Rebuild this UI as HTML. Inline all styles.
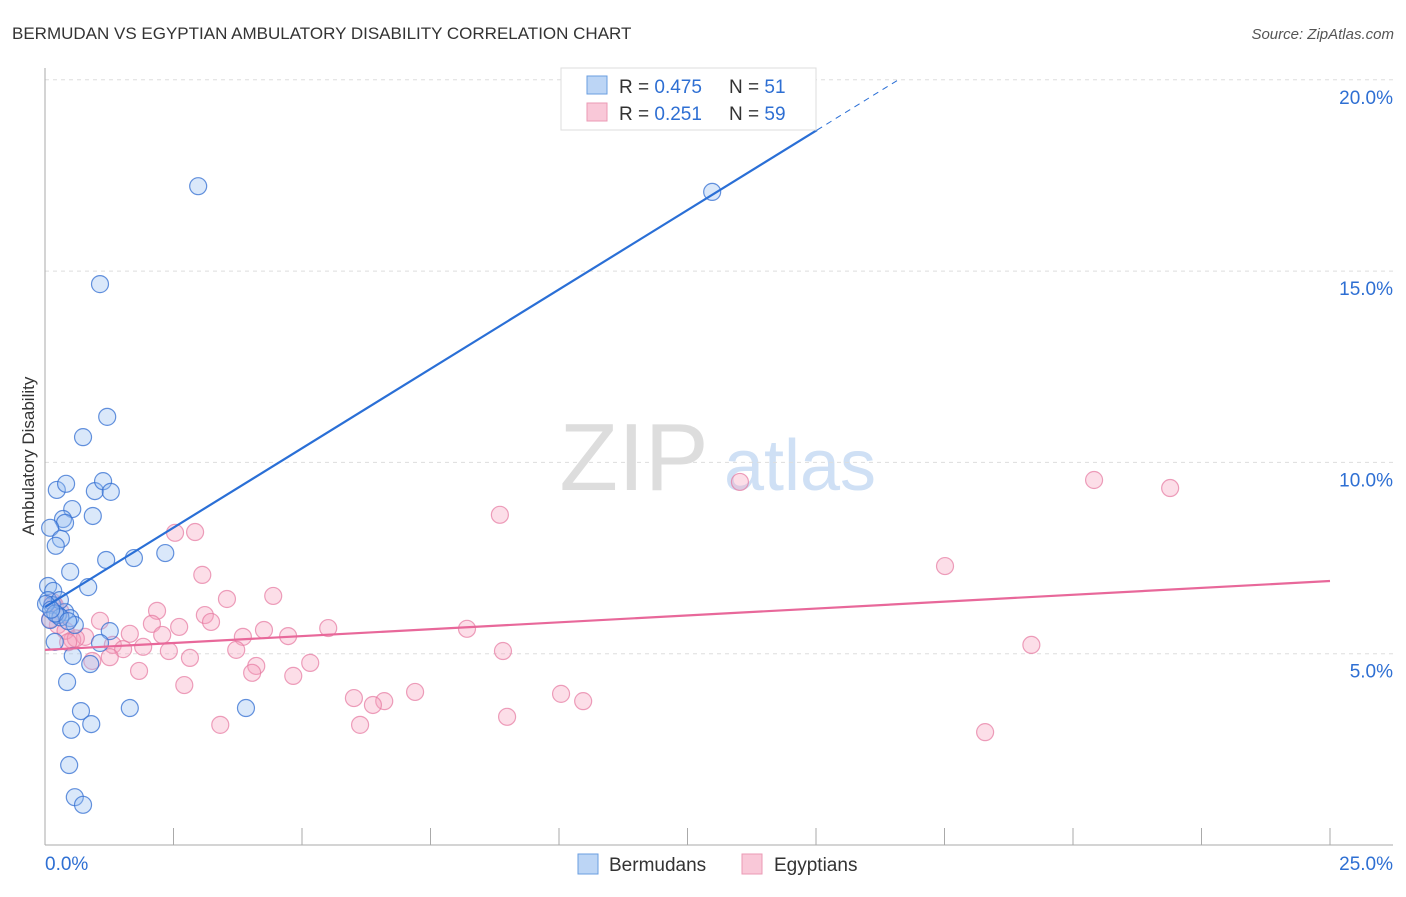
<!DOCTYPE html>
<html><head><meta charset="utf-8"><style>
body{margin:0;background:#fff;font-family:"Liberation Sans",sans-serif;}
svg text{font-family:"Liberation Sans",sans-serif;}
</style></head><body>
<svg width="1406" height="892" id="chart">
<text x="12" y="39" font-size="17" fill="#333">BERMUDAN VS EGYPTIAN AMBULATORY DISABILITY CORRELATION CHART</text>
<text x="1394" y="39" font-size="15" fill="#555" font-style="italic" text-anchor="end">Source: ZipAtlas.com</text>
<text x="634" y="490" font-size="96" fill="#ddd" font-family="Liberation Serif" text-anchor="middle">ZIP</text>
<text x="800" y="490" font-size="72" fill="#cfe0f5" text-anchor="middle">atlas</text>
<text transform="translate(34,456) rotate(-90)" font-size="17" fill="#333" text-anchor="middle">Ambulatory Disability</text>
<g id="grid"></g><g id="axes"></g><g id="pts"></g><g id="lines"></g>
<g>
<rect x="561" y="68" width="255" height="62" fill="#fff" stroke="#ddd"/>
<rect x="587" y="76" width="20" height="18" fill="#bcd5f5" stroke="#6a9ee0"/>
<rect x="587" y="103" width="20" height="18" fill="#f9c8d8" stroke="#eb9ab5"/>
<text x="619" y="93" font-size="19" fill="#333">R = <tspan fill="#2e6fd3">0.475</tspan><tspan x="729">N = </tspan><tspan fill="#2e6fd3">51</tspan></text>
<text x="619" y="120" font-size="19" fill="#333">R = <tspan fill="#2e6fd3"> 0.251</tspan><tspan x="729">N = </tspan><tspan fill="#2e6fd3">59</tspan></text>
</g>
<g>
<rect x="578" y="854" width="20" height="20" fill="#bcd5f5" stroke="#6a9ee0"/>
<text x="609" y="871" font-size="19" fill="#333">Bermudans</text>
<rect x="742" y="854" width="20" height="20" fill="#f9c8d8" stroke="#eb9ab5"/>
<text x="774" y="871" font-size="19" fill="#333">Egyptians</text>
</g>
</svg>
<script>
const yTicks=[5,10,15,20];
const xTickLabels=["0.0%","25.0%"];
const bermX=[2.98,12.98,1.07,1.21,0.74,0.23,0.41,0.97,1.13,1.28,0.53,0.93,0.35,0.39,0.10,0.31,0.21,1.19,1.73,2.34,0.49,0.84,0.06,0.16,0.06,0.14,0.39,0.49,0.25,0.58,1.26,0.19,1.07,0.54,0.88,0.43,1.65,3.91,0.70,0.90,0.51,0.47,0.58,0.74,0.29,0.10,0.02,0.30,0.20,0.45,0.12];
const bermY=[17.22,17.07,14.66,11.19,10.66,9.28,9.44,9.25,9.51,9.23,8.78,8.60,8.52,8.42,8.29,8.00,7.82,7.45,7.50,7.63,7.14,6.74,6.77,6.64,6.40,6.27,6.09,5.93,6.01,5.75,5.59,5.31,5.28,4.94,4.73,4.26,3.58,3.58,3.50,3.16,3.01,2.09,1.25,1.05,6.40,5.88,6.30,5.95,6.05,5.85,6.15];
const egX=[20.41,21.89,13.52,8.85,2.92,2.53,17.51,3.06,4.44,3.54,2.18,3.11,1.07,2.08,3.23,2.61,5.51,8.21,4.26,4.73,3.85,2.28,1.65,0.78,0.53,1.32,1.91,1.52,3.72,2.41,8.91,19.19,1.26,2.82,0.92,5.16,4.11,1.83,4.03,4.83,2.71,7.20,6.01,10.04,10.47,6.60,6.38,8.99,3.41,6.13,18.29,0.19,0.25,0.10,0.40,0.30,0.60,0.15,0.45];
const egY=[9.54,9.33,9.49,8.63,8.18,8.16,7.29,7.06,6.51,6.43,6.12,6.01,5.86,5.78,5.83,5.70,5.67,5.65,5.62,5.46,5.44,5.49,5.52,5.44,5.36,5.23,5.18,5.12,5.10,5.07,5.07,5.23,4.91,4.89,4.81,4.76,4.68,4.55,4.50,4.42,4.18,4.00,3.84,3.95,3.76,3.76,3.66,3.35,3.14,3.14,2.95,6.27,5.75,5.90,5.60,6.10,5.40,6.35,5.30];
const bermTrend=[6.22,0.83];
const egTrend=[5.10,0.072];
const X=v=>45+v/25*1285, Y=v=>845-v/5*191.3;
const NS="http://www.w3.org/2000/svg";
function mk(t,a,p){const e=document.createElementNS(NS,t);for(const k in a)e.setAttribute(k,a[k]);document.getElementById(p).appendChild(e);return e;}
yTicks.forEach(t=>{
 const l=mk('line',{x1:45,x2:1393,y1:Y(t),y2:Y(t),stroke:'#ddd','stroke-dasharray':'4,4'},'grid');
 
 
 const tx=mk('text',{x:1393,y:Y(t)+24,'font-size':19,fill:'#2e6fd3','text-anchor':'end'},'grid');
 tx.textContent=t.toFixed(1)+'%';
 
 
});
const ax=mk('line',{x1:45,x2:45,y1:68,y2:845,stroke:'#aaa'},'axes');


const bx=mk('line',{x1:45,x2:1393,y1:845,y2:845,stroke:'#aaa'},'axes');


for(let i=0;i<=10;i++){const t=mk('line',{x1:X(i*2.5),x2:X(i*2.5),y1:828,y2:845,stroke:'#aaa'},'axes');
 
 }
[[0,'start',45],[25,'end',1393]].forEach((d,i)=>{const t=mk('text',{x:d[2],y:870,'font-size':19,fill:'#2e6fd3','text-anchor':d[1]},'axes');t.textContent=xTickLabels[i];
 
 });
egX.forEach((x,i)=>{const c=mk('circle',{cx:X(x),cy:Y(egY[i]),r:8.5,fill:'rgba(245,160,190,0.35)',stroke:'rgba(230,120,160,0.7)','stroke-width':1.2},'pts');
 
 });
bermX.forEach((x,i)=>{const c=mk('circle',{cx:X(x),cy:Y(bermY[i]),r:8.5,fill:'rgba(150,190,240,0.35)',stroke:'rgba(50,110,210,0.75)','stroke-width':1.2},'pts');
 
 });
const xe=15.02;
let l=mk('line',{x1:X(0),y1:Y(bermTrend[0]),x2:X(xe),y2:Y(bermTrend[0]+bermTrend[1]*xe),stroke:'#2a6fd6','stroke-width':2.2},'lines');


l=mk('line',{x1:X(xe),y1:Y(bermTrend[0]+bermTrend[1]*xe),x2:X(16.6),y2:Y(bermTrend[0]+bermTrend[1]*16.6),stroke:'#2a6fd6','stroke-width':1,'stroke-dasharray':'6,5'},'lines');


l=mk('line',{x1:X(0),y1:Y(egTrend[0]),x2:X(25),y2:Y(egTrend[0]+egTrend[1]*25),stroke:'#e8689a','stroke-width':2.2},'lines');


</script>
</body></html>
